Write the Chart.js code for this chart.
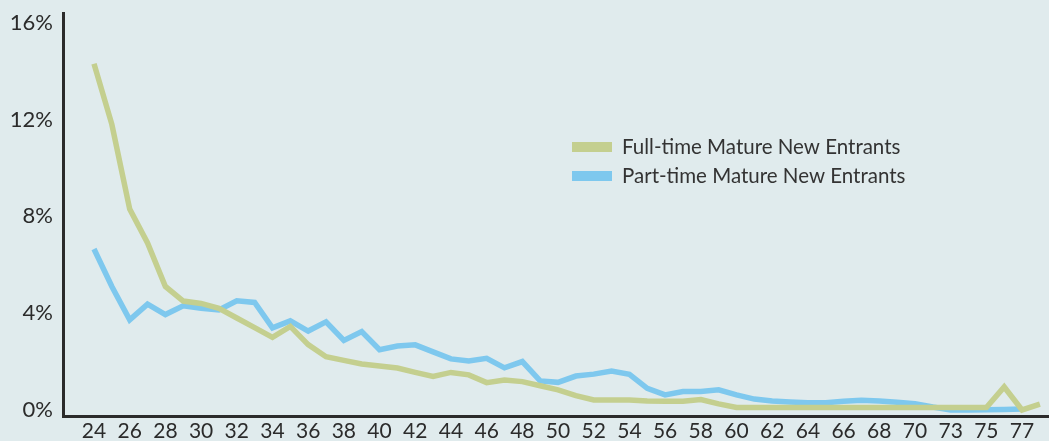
<!DOCTYPE html>
<html>
<head>
<meta charset="utf-8">
<script src="https://cdn.jsdelivr.net/npm/chart.js@4/dist/chart.umd.min.js"></script>
<style>
  html, body { margin: 0; padding: 0; background: #e0ebed; overflow: hidden; }
  #wrap { width: 1049px; height: 441px; position: relative; }
</style>
</head>
<body>
<div id="wrap"><canvas id="chart"></canvas></div>
<script>
// ages (71 is skipped in the source, 78 has no tick label)
const ages = [
  '24', '25', '26', '27', '28', '29', '30', '31', '32', '33', '34', '35', '36', '37', '38', '39',
  '40', '41', '42', '43', '44', '45', '46', '47', '48', '49', '50', '51', '52', '53', '54', '55',
  '56', '57', '58', '59', '60', '61', '62', '63', '64', '65', '66', '67', '68', '69', '70',
  '72', '73', '74', '75', '76', '77', '78'
];

// share of entrants at each age, %
const fullTime = [
  14.3, 11.8, 8.3, 6.9, 5.1, 4.5, 4.4, 4.2, 3.8, 3.4, 3.0, 3.45, 2.7, 2.2, 2.05, 1.9,
  1.82, 1.73, 1.55, 1.38, 1.55, 1.45, 1.13, 1.24, 1.17, 1.0, 0.83, 0.59, 0.41, 0.41, 0.41, 0.37,
  0.36, 0.36, 0.43, 0.25, 0.1, 0.1, 0.1, 0.1, 0.1, 0.1, 0.1, 0.1, 0.1, 0.1, 0.1,
  0.1, 0.1, 0.1, 0.1, 0.95, 0.0, 0.24
];

const partTime = [
  6.65, 5.1, 3.72, 4.37, 3.94, 4.3, 4.2, 4.13, 4.51, 4.44, 3.39, 3.68, 3.26, 3.64, 2.87, 3.24,
  2.49, 2.64, 2.69, 2.4, 2.11, 2.02, 2.13, 1.74, 2.0, 1.2, 1.14, 1.4, 1.48, 1.61, 1.47, 0.89,
  0.62, 0.76, 0.76, 0.83, 0.62, 0.45, 0.37, 0.33, 0.3, 0.3, 0.36, 0.4, 0.37, 0.32, 0.26,
  0.12, 0.0, 0.0, 0.01, 0.02, 0.04, null
];

const yTicks = [0, 4, 8, 12, 16];
const xTickIdx = ages.map((a, i) => i).filter(i => i % 2 === 0 && i <= 52);

const GREEN = '#c4cf8f';
const BLUE = '#7ec8ee';
const INK = '#2b2b2b';

// legend drawn inside the plot, to the right
const insideLegend = {
  id: 'insideLegend',
  afterDraw(chart) {
    const ctx = chart.ctx;
    ctx.save();
    ctx.font = '20.5px Lato';
    ctx.textBaseline = 'middle';
    chart.data.datasets.forEach((ds, i) => {
      const y = 147 + i * 29;
      ctx.fillStyle = ds.borderColor;
      ctx.fillRect(572, y - 5, 40, 10);
      ctx.fillStyle = '#333';
      ctx.fillText(ds.label, 622, y);
    });
    ctx.restore();
  }
};

const toPoints = arr => arr.map((v, i) => ({ x: i, y: v }));

new Chart(document.getElementById('chart'), {
  type: 'line',
  data: {
    datasets: [
      {
        label: 'Full-time Mature New Entrants',
        data: toPoints(fullTime),
        borderColor: GREEN,
        backgroundColor: GREEN,
        borderWidth: 5.5,
        pointRadius: 0,
        tension: 0,
      },
      {
        label: 'Part-time Mature New Entrants',
        data: toPoints(partTime),
        borderColor: BLUE,
        backgroundColor: BLUE,
        borderWidth: 5.5,
        pointRadius: 0,
        tension: 0,
        spanGaps: false,
      }
    ]
  },
  options: {
    responsive: true,
    maintainAspectRatio: false,
    animation: false,
    layout: { padding: { top: 13, right: 0, left: 0, bottom: 0 } },
    plugins: {
      legend: { display: false },
      tooltip: { enabled: false },
    },
    scales: {
      x: {
        type: 'linear',
        min: -1.737,
        max: 53.51,
        grid: { display: false, drawTicks: false },
        border: { display: true, color: INK, width: 3 },
        afterBuildTicks: (scale) => { scale.ticks = xTickIdx.map(v => ({ value: v })); },
        afterFit: (scale) => {
          scale.height = 25;
          scale.paddingLeft = 0;
          scale.paddingRight = 0;
        },
        ticks: {
          autoSkip: false,
          maxRotation: 0,
          padding: 3,
          color: INK,
          font: { family: 'Lato', size: 21 },
          callback: (v) => ages[v],
        },
      },
      y: {
        min: -0.25,
        max: 16.4,
        grid: { display: false, drawTicks: false },
        border: { display: true, color: INK, width: 3 },
        afterBuildTicks: (scale) => { scale.ticks = yTicks.map(v => ({ value: v })); },
        afterFit: (scale) => {
          scale.width = 63;
          scale.paddingTop = 0;
          scale.paddingBottom = 0;
        },
        ticks: {
          padding: 10,
          color: INK,
          font: { family: 'Lato', size: 22 },
          callback: (v) => v + '%',
        },
      }
    }
  },
  plugins: [insideLegend]
});
</script>
</body>
</html>
